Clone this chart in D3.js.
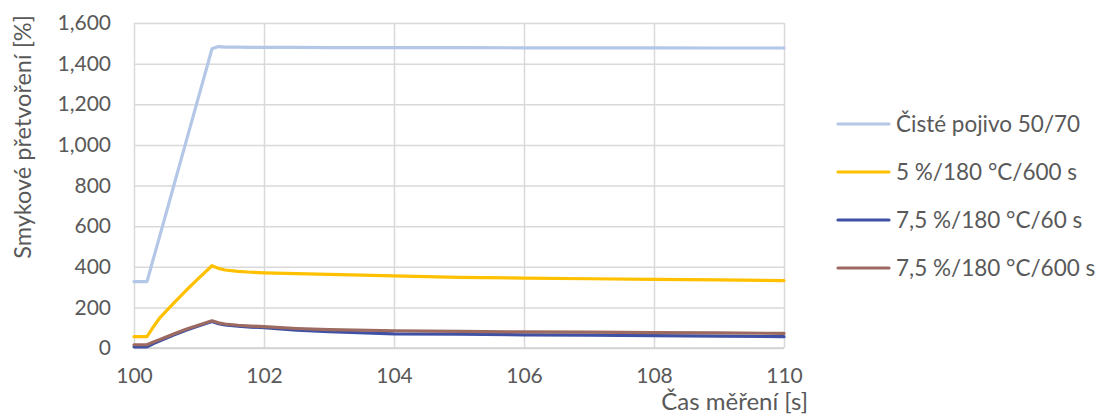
<!DOCTYPE html>
<html>
<head>
<meta charset="utf-8">
<script src="https://cdn.jsdelivr.net/npm/d3@7/dist/d3.min.js"></script>
<style>
  html, body { margin: 0; padding: 0; background: #fff; }
  svg { display: block; }
  text { font-family: Lato, "Open Sans", sans-serif; fill: #595959; }
</style>
</head>
<body>
<script>
// Measurement time [s]
const time = [100, 100.1, 100.2, 100.3, 100.4, 100.6, 100.8, 101.0, 101.2, 101.3, 101.4, 101.6, 101.8,
              102, 102.5, 103, 104, 105, 106, 107, 108, 109, 110];

// Shear strain [%] per binder sample
const pureBinder  = [327, 327, 327, 442, 556, 785, 1015, 1244, 1473, 1484, 1481, 1481, 1480,
                     1480, 1480, 1479, 1479, 1479, 1478, 1478, 1478, 1477, 1477];
const mod5_600    = [56, 56, 56, 105, 150, 217, 283, 345, 405, 392, 384, 377, 373,
                     370, 366, 362, 355, 348, 344, 341, 338, 335, 332];
const mod75_60    = [6, 6, 6, 22, 35, 63, 87, 109, 130, 120, 114, 107, 103,
                     100, 88, 80, 70, 68, 65, 63, 61, 58, 56];
const mod75_600   = [16, 16, 16, 30, 42, 68, 92, 113, 134, 124, 118, 112, 108,
                     105, 96, 90, 85, 82, 79, 78, 76, 74, 72];

const seriesNames  = ["Čisté pojivo 50/70", "5 %/180 °C/600 s", "7,5 %/180 °C/60 s", "7,5 %/180 °C/600 s"];
const seriesValues = [pureBinder, mod5_600, mod75_60, mod75_600];
const seriesColors = ["#B4C7E7", "#FFC000", "#3F51A5", "#9C6A61"];

const xTicks = [100, 102, 104, 106, 108, 110];
const yTicks = [0, 200, 400, 600, 800, 1000, 1200, 1400, 1600];

const W = 1105, H = 416;
const plot = { left: 134, right: 784, top: 23, bottom: 348 };

const svg = d3.select("body").append("svg").attr("width", W).attr("height", H);

const x = d3.scaleLinear().domain([100, 110]).range([plot.left, plot.right]);
const y = d3.scaleLinear().domain([0, 1600]).range([plot.bottom, plot.top]);

// Horizontal gridlines and y tick labels
const yAxis = d3.axisLeft(y).tickValues(yTicks).tickFormat(d3.format(",")).tickSize(-(plot.right - plot.left)).tickPadding(23);
const gy = svg.append("g").attr("transform", `translate(${plot.left},0)`).call(yAxis);
gy.select(".domain").remove();
gy.selectAll(".tick line").attr("stroke", "#D9D9D9").attr("stroke-width", 1.5);
gy.selectAll(".tick text").attr("font-size", 21).style("fill", "#595959").style("font-family", "Lato, sans-serif");

// Vertical gridlines and x tick labels
const xAxis = d3.axisBottom(x).tickValues(xTicks).tickFormat(d3.format("d")).tickSize(-(plot.bottom - plot.top)).tickPadding(20);
const gx = svg.append("g").attr("transform", `translate(0,${plot.bottom})`).call(xAxis);
gx.select(".domain").remove();
gx.selectAll(".tick line").attr("stroke", "#D9D9D9").attr("stroke-width", 1.5);
gx.selectAll(".tick text").attr("font-size", 21).style("fill", "#595959").style("font-family", "Lato, sans-serif");

// Axis baseline
svg.append("line")
  .attr("x1", plot.left).attr("x2", plot.right)
  .attr("y1", plot.bottom).attr("y2", plot.bottom)
  .attr("stroke", "#D0D0D0").attr("stroke-width", 1.5);

// Series lines
const line = d3.line().x((d, i) => x(time[i])).y(d => y(d));
seriesValues.forEach((vals, k) => {
  svg.append("path")
    .datum(vals)
    .attr("d", line)
    .attr("fill", "none")
    .attr("stroke", seriesColors[k])
    .attr("stroke-width", 3.2)
    .attr("stroke-linejoin", "round")
    .attr("stroke-linecap", "round");
});

// Axis titles
svg.append("text")
  .attr("transform", "translate(23,137) rotate(-90)")
  .attr("text-anchor", "middle")
  .attr("dy", "0.35em")
  .attr("font-size", 23.5)
  .text("Smykové přetvoření [%]");

svg.append("text")
  .attr("x", 808).attr("y", 410)
  .attr("text-anchor", "end")
  .attr("font-size", 24)
  .text("Čas měření [s]");

// Legend
const legend = svg.append("g");
seriesNames.forEach((name, k) => {
  const ly = 124 + k * 48;
  legend.append("line")
    .attr("x1", 838).attr("x2", 889)
    .attr("y1", ly).attr("y2", ly)
    .attr("stroke", seriesColors[k]).attr("stroke-width", 3.2)
    .attr("stroke-linecap", "round");
  legend.append("text")
    .attr("x", 896).attr("y", ly)
    .attr("dy", "0.35em")
    .attr("font-size", 22.5)
    .text(name);
});
</script>
</body>
</html>
